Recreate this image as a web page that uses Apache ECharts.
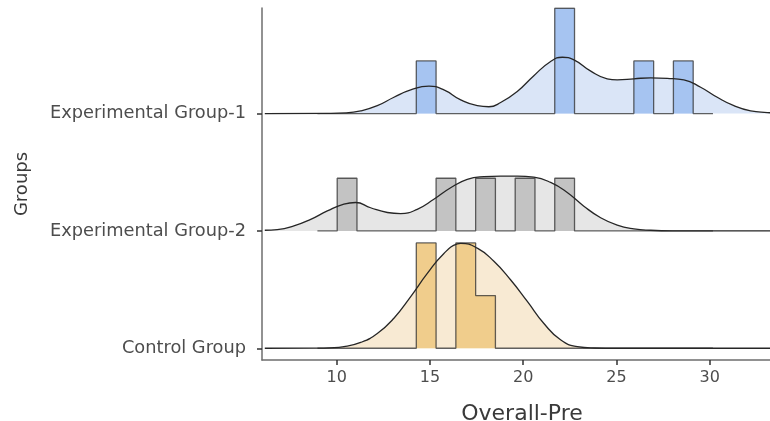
<!DOCTYPE html>
<html>
<head>
<meta charset="utf-8">
<script src="https://cdn.jsdelivr.net/npm/echarts@6/dist/echarts.min.js"></script>
<style>
html, body { margin: 0; padding: 0; background: #fff; }
#chart { width: 770px; height: 421px; }
</style>
</head>
<body>
<div id="chart"></div>
<script>
// groups from bottom to top (baseline 0, 1, 2)
let groups = ['Control Group', 'Experimental Group-2', 'Experimental Group-1'];
let xTicks = [10, 15, 20, 25, 30];

// histogram bins, shared by all groups
let binEdges = [8.97, 10.03, 11.09, 12.15, 13.21, 14.27, 15.33, 16.39, 17.45, 18.51, 19.57,
                20.63, 21.69, 22.75, 23.81, 24.87, 25.93, 26.99, 28.05, 29.11, 30.17];
let ctrlCounts = [0, 0, 0, 0, 0, 2, 0, 2, 1, 0, 0, 0, 0, 0, 0, 0, 0, 0, 0, 0];
let eg2Counts  = [0, 1, 0, 0, 0, 0, 1, 0, 1, 0, 1, 0, 1, 0, 0, 0, 0, 0, 0, 0];
let eg1Counts  = [0, 0, 0, 0, 0, 1, 0, 0, 0, 0, 0, 0, 2, 0, 0, 0, 1, 0, 1, 0];

// density curves (same height units as the counts)
let ctrlDensX = [6.15, 8.97, 9.6, 10.39, 11.29, 12.18, 13.07, 13.97, 14.86, 15.75, 16.47, 16.65,
                 17.54, 18.43, 19.32, 20.22, 21.11, 22.0, 22.9, 23.8, 25.0, 33.87];
let ctrlDensY = [0, 0.002, 0.008, 0.03, 0.11, 0.28, 0.57, 0.98, 1.42, 1.80, 1.98, 1.99,
                 1.90, 1.65, 1.30, 0.89, 0.47, 0.16, 0.03, 0.005, 0, 0];
let eg2DensX = [6.15, 6.82, 7.71, 8.61, 9.5, 10.39, 11.02, 11.82, 12.72, 13.43, 14.32, 15.21,
                16.11, 17.0, 17.89, 18.79, 19.68, 20.57, 21.47, 22.36, 23.25, 24.15, 25.04,
                25.93, 26.83, 28.0, 33.87];
let eg2DensY = [0.013, 0.025, 0.095, 0.22, 0.38, 0.51, 0.54, 0.44, 0.35, 0.33, 0.41, 0.60,
                0.82, 0.98, 1.03, 1.04, 1.04, 1.02, 0.92, 0.73, 0.47, 0.25, 0.11,
                0.04, 0.013, 0.002, 0];
let eg1DensX = [6.15, 9.5, 10.5, 11.29, 12.18, 13.07, 13.97, 14.95, 15.75, 16.65, 17.54, 18.16,
                18.79, 19.68, 20.57, 21.47, 22.1, 22.72, 23.6, 24.5, 25.04, 25.93, 26.83,
                27.72, 28.61, 29.51, 30.4, 31.29, 32.19, 33.08, 33.87];
let eg1DensY = [0, 0.004, 0.012, 0.05, 0.15, 0.31, 0.45, 0.52, 0.45, 0.26, 0.15, 0.13,
                0.21, 0.42, 0.72, 0.99, 1.07, 1.02, 0.81, 0.66, 0.64, 0.66, 0.68,
                0.67, 0.64, 0.50, 0.31, 0.15, 0.05, 0.02, 0.005];

let H = 0.449;  // y units per count
let font = 'DejaVu Sans';

let sets = [
    {counts: ctrlCounts, dx: ctrlDensX, dy: ctrlDensY, fill: '#f8ead3', bar: '#f0cd8c'},
    {counts: eg2Counts, dx: eg2DensX, dy: eg2DensY, fill: '#e6e6e6', bar: '#c3c3c3'},
    {counts: eg1Counts, dx: eg1DensX, dy: eg1DensY, fill: '#dae5f7', bar: '#a6c4f1'}
];

function histData(counts, base) {
    let pts = [[binEdges[0], base]];
    counts.forEach((c, k) => pts.push([binEdges[k], base + c * H]));
    pts.push([binEdges[binEdges.length - 1], base]);
    return pts;
}

function densData(xs, ys, base) {
    return xs.map((x, i) => [x, base + ys[i] * H]);
}

let series = [];
sets.forEach((s, base) => {
    let dens = densData(s.dx, s.dy, base);
    series.push({
        type: 'line', data: dens, smooth: 0.5, showSymbol: false,
        lineStyle: {width: 0}, areaStyle: {color: s.fill, opacity: 1, origin: base}, z: 1
    });
    series.push({
        type: 'line', data: histData(s.counts, base), step: 'end', showSymbol: false,
        lineStyle: {color: 'rgba(45,45,45,0.75)', width: 1.3},
        areaStyle: {color: s.bar, opacity: 1, origin: base}, z: 2
    });
    series.push({
        type: 'line', data: dens, smooth: 0.5, showSymbol: false,
        lineStyle: {color: '#262626', width: 1.3}, z: 3
    });
});

let axisLine = {show: true, onZero: false, lineStyle: {color: '#6e6e6e', width: 1.5}};

let option = {
    animation: false,
    grid: {left: 262, right: -12, top: 8, bottom: 61, outerBoundsMode: 'none', containLabel: false},
    xAxis: {
        type: 'value', min: 6, max: 33.87,
        name: 'Overall-Pre', nameLocation: 'middle', nameGap: 43,
        nameTextStyle: {fontFamily: font, fontSize: 22, color: '#3a3a3a'},
        axisLine: axisLine,
        axisTick: {show: true, length: 5, customValues: xTicks, lineStyle: {color: '#333', width: 1.5}},
        axisLabel: {customValues: xTicks, fontFamily: font, fontSize: 16, color: '#4d4d4d', margin: 10},
        splitLine: {show: false}
    },
    yAxis: {
        type: 'value', min: -0.1, max: 2.9,
        name: 'Groups', nameLocation: 'middle', nameGap: 231,
        nameTextStyle: {fontFamily: font, fontSize: 18, color: '#3a3a3a'},
        axisLine: axisLine,
        axisTick: {show: true, length: 5, customValues: [0, 1, 2], lineStyle: {color: '#333', width: 1.5}},
        axisLabel: {
            customValues: [0, 1, 2], fontFamily: font, fontSize: 17.8, color: '#4d4d4d', margin: 16,
            formatter: v => groups[Math.round(v)]
        },
        splitLine: {show: false}
    },
    series: series
};

let myChart = echarts.init(document.getElementById('chart'));
myChart.setOption(option);
</script>
</body>
</html>
